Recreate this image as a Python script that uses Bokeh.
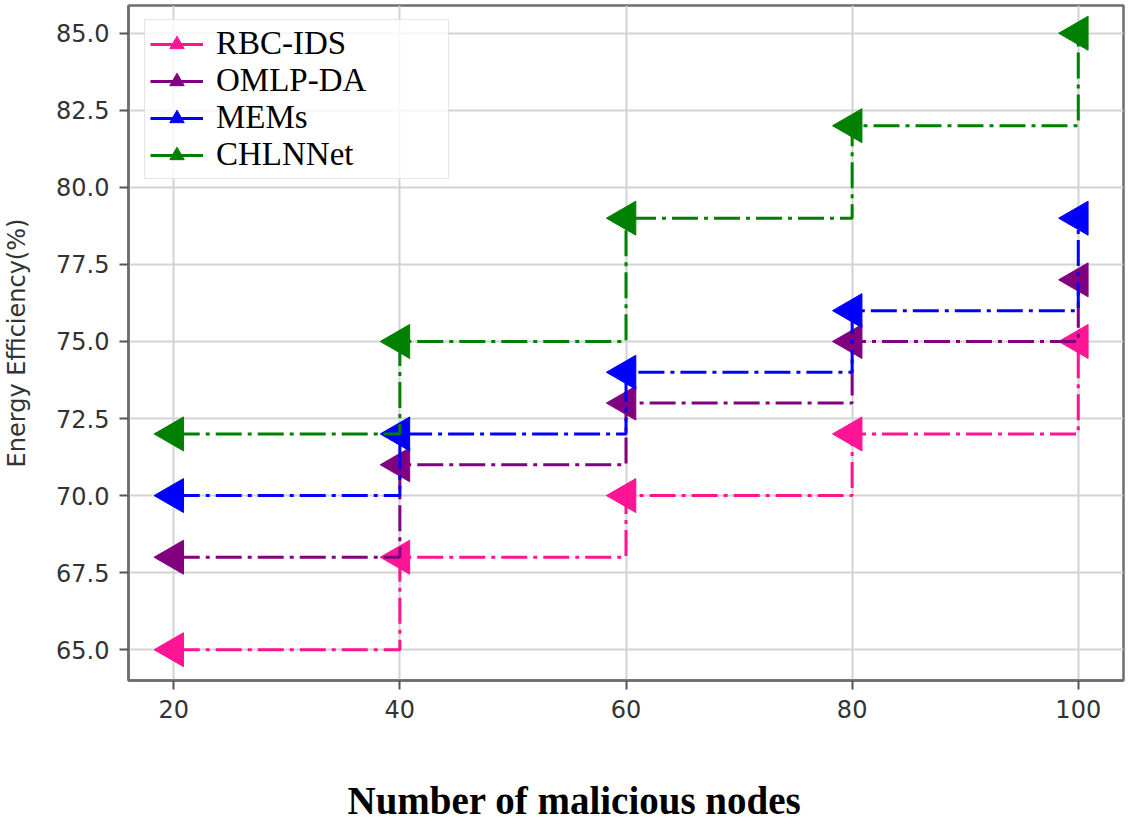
import math
from bokeh.plotting import figure
from bokeh.models import Range1d, FixedTicker, PrintfTickFormatter, Title, Legend, LegendItem
from bokeh.embed import file_html
from bokeh.resources import INLINE

# ---- data ----
nodes = [20, 40, 60, 80, 100]
rbc_ids = [65, 68, 70, 72, 75]
omlp_da = [68, 71, 73, 75, 77]
mems = [70, 72, 74, 76, 79]
chlnnet = [72, 75, 79, 82, 85]
series_names = ["RBC-IDS", "OMLP-DA", "MEMs", "CHLNNet"]
series_values = [rbc_ids, omlp_da, mems, chlnnet]
series_colors = ["#ff1493", "#800080", "#0000ff", "#008000"]
x_ticks = [20, 40, 60, 80, 100]
y_ticks = [65.0, 67.5, 70.0, 72.5, 75.0, 77.5, 80.0, 82.5, 85.0]
x_title = "Number of malicious nodes"
y_title = "Energy Efficiency(%)"

p = figure(frame_width=995, frame_height=675, output_backend="svg", toolbar_location=None,
           x_range=Range1d(16, 104), y_range=Range1d(64.0, 85.9),
           min_border_left=124, min_border_right=6, min_border_top=5,
           min_border_bottom=0)

p.background_fill_color = "white"
p.border_fill_color = "white"
p.outline_line_color = "#6e6e6e"
p.outline_line_width = 2.5

items = []
for name, vals, col in zip(series_names, series_values, series_colors):
    p.step(nodes, vals, mode="after", line_color=col, line_width=3,
           line_dash="26 6 4 6")
    sr = p.scatter(nodes, vals, marker="triangle", angle=math.pi / 2, size=34,
                   fill_color=col, line_color=col)
    key = p.line(nodes, vals, line_color=col, line_width=3, visible=False)
    items.append(LegendItem(label=name, renderers=[key, sr]))

# grid
p.xgrid.grid_line_color = "#d3d3d3"
p.ygrid.grid_line_color = "#d3d3d3"
p.xgrid.grid_line_width = 2
p.ygrid.grid_line_width = 2

# axes
p.xaxis.ticker = FixedTicker(ticks=x_ticks)
p.yaxis.ticker = FixedTicker(ticks=y_ticks)
p.yaxis.formatter = PrintfTickFormatter(format="%.1f")
for ax in (p.xaxis, p.yaxis):
    ax.axis_line_color = "#6e6e6e"
    ax.axis_line_width = 2.5
    ax.major_tick_line_color = "#555555"
    ax.major_tick_line_width = 2
    ax.major_tick_in = 0
    ax.major_tick_out = 9
    ax.minor_tick_line_color = None
    ax.major_label_text_font = "DejaVu Sans"
    ax.major_label_text_font_size = "24px"
    ax.major_label_text_color = "#333333"
    ax.major_label_standoff = 10

p.yaxis.axis_label = y_title
p.yaxis.axis_label_text_font = "DejaVu Sans"
p.yaxis.axis_label_text_font_size = "24px"
p.yaxis.axis_label_text_font_style = "normal"
p.yaxis.axis_label_text_color = "#333333"
p.yaxis.axis_label_standoff = 22

# spacer below the x tick labels, then the x title
p.xaxis.axis_label = " "
p.xaxis.axis_label_text_font_size = "1px"
p.xaxis.axis_label_standoff = 50

t = Title(text=x_title, align="left", offset=219, standoff=4,
          text_font="Liberation Serif", text_font_style="bold",
          text_font_size="39px", text_color="#000000")
p.add_layout(t, "below")

# legend
lg = Legend(items=items, location=(16, 501))
lg.label_text_font = "Liberation Serif"
lg.label_text_font_size = "33px"
lg.label_text_color = "#000000"
lg.glyph_width = 53
lg.glyph_height = 36
lg.label_standoff = 13
lg.label_height = 36
lg.label_width = 227
lg.padding = 5
lg.spacing = 0
lg.margin = 0
lg.border_line_color = "#cccccc"
lg.border_line_width = 1.5
lg.background_fill_color = "white"
lg.background_fill_alpha = 0.8
p.add_layout(lg)

open("out.html", "w").write(file_html(p, INLINE))
